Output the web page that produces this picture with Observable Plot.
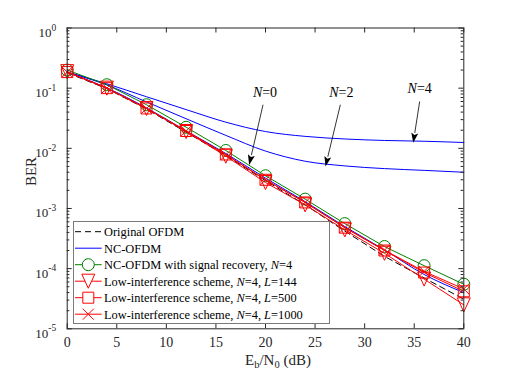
<!DOCTYPE html>
<html><head><meta charset="utf-8">
<script src="https://cdn.jsdelivr.net/npm/d3@7"></script>
<script src="https://cdn.jsdelivr.net/npm/@observablehq/plot@0.6"></script>
<style>body{margin:0;background:#fff} svg{display:block}</style>
</head><body><div id="chart"></div>
<script>
// ---- data ----
const snr = [0, 4, 8, 12, 16, 20, 24, 28, 32, 36, 40];
const berOriginal = [0.180, 0.098, 0.045, 0.0185, 0.0076, 0.0029, 0.00115, 4.2e-4, 1.6e-4, 7.0e-5, 3.1e-5];
const berNC0      = [0.182, 0.101, 0.047, 0.0195, 0.0082, 0.0032, 0.00130, 5.0e-4, 2.05e-4, 8.0e-5, 4.0e-5];
const berNC2      = [0.184, 0.113, 0.059, 0.031, 0.0164, 0.0090, 0.0061, 0.0051, 0.0046, 0.0043, 0.0040];
const berNC4      = [0.186, 0.118, 0.072, 0.044, 0.0272, 0.0190, 0.0158, 0.0143, 0.0135, 0.0131, 0.0125];
const berRecovery = [0.200, 0.114, 0.053, 0.0224, 0.0092, 0.0035, 0.00143, 5.6e-4, 2.33e-4, 1.12e-4, 5.5e-5];
const berL144     = [0.188, 0.100, 0.046, 0.0190, 0.0074, 0.0027, 0.00115, 4.4e-4, 1.8e-4, 6.7e-5, 2.5e-5];
const berL500     = [0.185, 0.100, 0.046, 0.0194, 0.0079, 0.0030, 0.00126, 4.8e-4, 2.0e-4, 8.6e-5, 4.2e-5];
const berL1000    = [0.185, 0.100, 0.046, 0.0194, 0.0078, 0.0030, 0.00126, 4.8e-4, 2.03e-4, 9.0e-5, 4.6e-5];

const xTicks = [0, 5, 10, 15, 20, 25, 30, 35, 40];
const yTicks = [1e-5, 1e-4, 1e-3, 1e-2, 1e-1, 1];
const yMinor = [];
for (let k = -5; k < 0; k++) for (let m = 2; m <= 9; m++) yMinor.push(m * Math.pow(10, k));

const legendLabels = [
  ["Original OFDM"],
  ["NC-OFDM"],
  ["NC-OFDM with signal recovery, ", {i: "N"}, "=4"],
  ["Low-interference scheme, ", {i: "N"}, "=4, ", {i: "L"}, "=144"],
  ["Low-interference scheme, ", {i: "N"}, "=4, ", {i: "L"}, "=500"],
  ["Low-interference scheme, ", {i: "N"}, "=4, ", {i: "L"}, "=1000"]
];
const annotLabels = ["0", "2", "4"];
const annotText  = [[20.0, 0.071], [27.7, 0.071], [35.6, 0.083]];
const annotTail  = [[19.8, 0.052], [27.6, 0.052], [35.6, 0.059]];
const annotHead  = [[18.4, 0.0052], [26.1, 0.0049], [34.95, 0.0121]];

// ---- styles ----
const W = 512, H = 375;
const mL = 66.7, mR = 48.7, mT = 27.5, mB = 46.7;
const plotW = W - mL - mR, plotH = H - mT - mB;
const axisColor = "#262626";
const FONT = "'Liberation Serif', 'Times New Roman', serif";
const BLUE = "#0000ff", GREEN = "#008000", RED = "#ff0000";

const table = (ys) => snr.map((x, i) => ({x, y: ys[i]}));

const triDown = {draw(ctx, size) { const r = Math.sqrt(size / Math.PI); ctx.moveTo(-r, -r * 1.08); ctx.lineTo(r, -r * 1.08); ctx.lineTo(0, r * 1.08); ctx.closePath(); }};
const square = {draw(ctx, size) { const r = Math.sqrt(size / Math.PI); ctx.moveTo(-r, -r); ctx.lineTo(r, -r); ctx.lineTo(r, r); ctx.lineTo(-r, r); ctx.closePath(); }};
const cross = {draw(ctx, size) { const r = Math.sqrt(size / Math.PI); ctx.moveTo(-r, -r); ctx.lineTo(r, r); ctx.moveTo(r, -r); ctx.lineTo(-r, r); }};
const circle = {draw(ctx, size) { const r = Math.sqrt(size / Math.PI); ctx.moveTo(r, 0); ctx.arc(0, 0, r, 0, 2 * Math.PI); }};

const series = [
  {ys: berOriginal, color: "#000", dash: "6,4"},
  {ys: berNC0, color: BLUE, curve: "monotone-x"},
  {ys: berNC2, color: BLUE, curve: "monotone-x"},
  {ys: berNC4, color: BLUE, curve: "monotone-x"},
  {ys: berRecovery, color: GREEN, sym: circle, r: 6},
  {ys: berL144, color: RED, sym: triDown, r: 6.5},
  {ys: berL500, color: RED, sym: square, r: 5.5},
  {ys: berL1000, color: RED, sym: cross, r: 5.5}
];

const marks = [];
for (const s of series) {
  marks.push(Plot.line(table(s.ys), {x: "x", y: "y", stroke: s.color, strokeWidth: 1, strokeDasharray: s.dash, curve: s.curve || "linear"}));
  if (s.sym) marks.push(Plot.dot(table(s.ys), {x: "x", y: "y", symbol: s.sym, r: s.r, stroke: s.color, fill: "none", strokeWidth: 1}));
}

const plot = Plot.plot({
  width: W, height: H,
  marginLeft: mL, marginRight: mR, marginTop: mT, marginBottom: mB,
  style: {fontFamily: FONT, color: axisColor, background: "white"},
  x: {domain: [0, 40], axis: null},
  y: {type: "log", domain: [1e-5, 1], axis: null},
  marks: [
    ...marks,
    Plot.frame({stroke: axisColor, strokeWidth: 1}),
    Plot.tickX(xTicks, {x: d => d, stroke: axisColor, insetTop: plotH - 5}),
    Plot.tickX(xTicks, {x: d => d, stroke: axisColor, insetBottom: plotH - 5}),
    Plot.tickY(yTicks, {y: d => d, stroke: axisColor, insetRight: plotW - 5}),
    Plot.tickY(yTicks, {y: d => d, stroke: axisColor, insetLeft: plotW - 5}),
    Plot.tickY(yMinor, {y: d => d, stroke: axisColor, insetRight: plotW - 2.7}),
    Plot.tickY(yMinor, {y: d => d, stroke: axisColor, insetLeft: plotW - 2.7}),
    Plot.axisX({ticks: xTicks, tickSize: 0, tickPadding: 8, fontSize: 14, label: null, tickFormat: d => String(d)}),
    Plot.axisY({ticks: yTicks, tickSize: 0, tickPadding: 11, fontSize: 13, label: null,
      tickFormat: d => "10^" + Math.round(Math.log10(d))})
  ]
});
document.getElementById("chart").appendChild(plot);

const svg = d3.select(plot);
const xs = plot.scale("x"), ys = plot.scale("y");

// superscript y tick labels
svg.selectAll('g[aria-label="y-axis tick label"] text').each(function() {
  const t = d3.select(this);
  const [base, exp] = t.text().split("^");
  t.text(null).attr("y", 9);
  t.append("tspan").text(base);
  t.append("tspan").attr("dy", -6.5).attr("font-size", 9.5).text(exp);
});
svg.selectAll('g[aria-label="x-axis tick label"] text, g[aria-label="y-axis tick label"] text').attr("fill", axisColor);

// axis labels
const xl = svg.append("text").attr("x", 245).attr("y", 365).attr("text-anchor", "start")
  .attr("font-family", FONT).attr("font-size", 15).attr("fill", axisColor);
xl.append("tspan").text("E");
xl.append("tspan").attr("dy", 3).attr("font-size", 10.5).text("b");
xl.append("tspan").attr("dy", -3).text("/N");
xl.append("tspan").attr("dy", 3).attr("font-size", 10.5).text("0");
xl.append("tspan").attr("dy", -3).text(" (dB)");
svg.append("text").attr("transform", "translate(36,171.5) rotate(-90)").attr("text-anchor", "middle")
  .attr("font-family", FONT).attr("font-size", 15).attr("fill", axisColor).text("BER");

// annotations
const ag = svg.append("g");
annotLabels.forEach((lab, i) => {
  const tx = xs.apply(annotText[i][0]), ty = ys.apply(annotText[i][1]);
  const t = ag.append("text").attr("x", tx).attr("y", ty).attr("text-anchor", "middle")
    .attr("font-family", FONT).attr("font-size", 14).attr("fill", "#000");
  t.append("tspan").attr("font-style", "italic").text("N");
  t.append("tspan").text("=" + lab);
  const x1 = xs.apply(annotTail[i][0]), y1 = ys.apply(annotTail[i][1]);
  const x2 = xs.apply(annotHead[i][0]), y2 = ys.apply(annotHead[i][1]);
  const a = Math.atan2(y2 - y1, x2 - x1), L = 10, w = 3.5;
  const bx = x2 - L * Math.cos(a), by = y2 - L * Math.sin(a);
  ag.append("line").attr("x1", x1).attr("y1", y1).attr("x2", bx).attr("y2", by).attr("stroke", "#000").attr("stroke-width", 0.8);
  const px = -Math.sin(a) * w, py = Math.cos(a) * w;
  const bx2 = x2 - L * 0.8 * Math.cos(a), by2 = y2 - L * 0.8 * Math.sin(a);
  ag.append("path").attr("d", `M${x2},${y2}L${bx + px},${by + py}L${bx2},${by2}L${bx - px},${by - py}Z`).attr("fill", "#000");
});

// legend
const lg = svg.append("g");
lg.append("rect").attr("x", 73.5).attr("y", 221.5).attr("width", 256).attr("height", 102)
  .attr("fill", "white").attr("stroke", "#7a7a7a").attr("stroke-width", 1);
legendLabels.forEach((parts, i) => {
  const s = series[i === 0 ? 0 : i === 1 ? 1 : i + 2];
  const y = 231.7 + i * 16.5;
  lg.append("line").attr("x1", 75).attr("x2", 101.7).attr("y1", y).attr("y2", y)
    .attr("stroke", s.color).attr("stroke-width", 1).attr("stroke-dasharray", s.dash || null);
  if (s.sym) {
    lg.append("path").attr("transform", `translate(88.3,${y})`)
      .attr("d", d3.symbol(s.sym, Math.PI * s.r * s.r)()).attr("fill", "white").attr("stroke", s.color);
  }
  const t = lg.append("text").attr("x", 104).attr("y", y + 4.5).attr("text-anchor", "start")
    .attr("font-family", FONT).attr("font-size", 12.4).attr("fill", "#000");
  parts.forEach(p => {
    if (typeof p === "string") t.append("tspan").text(p);
    else t.append("tspan").attr("font-style", "italic").text(p.i);
  });
});
</script>
</body></html>
